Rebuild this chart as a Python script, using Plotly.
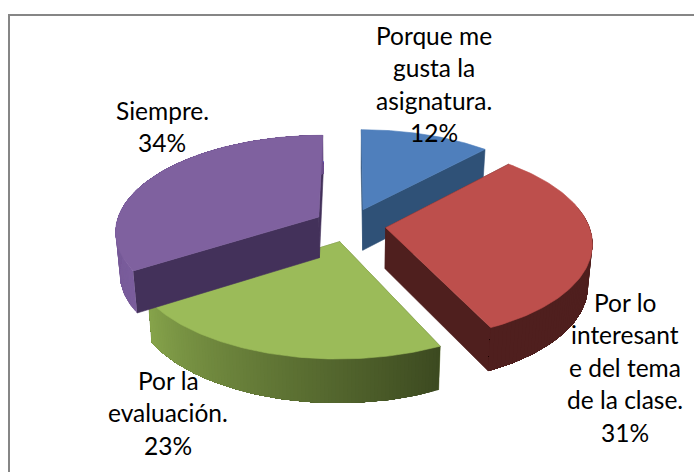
import math
import plotly.graph_objects as go

# ---- data ----
categories = ["Porque me gusta la asignatura.", "Por lo interesante del tema de la clase.",
              "Por la evaluación.", "Siempre."]
values = [12, 31, 23, 34]
label_lines = [["Porque me", "gusta la", "asignatura.", "12%"],
               ["Por lo", "interesant", "e del tema", "de la clase.", "31%"],
               ["Por la", "evaluación.", "23%"],
               ["Siempre.", "34%"]]
label_x = [434, 625, 168, 162]
label_y0 = [35, 302, 380, 110]
line_step = 32.6

top_colors = ["#4f7fbc", "#bd4f4c", "#9bbb59", "#7f619f"]
cut_colors = ["#2f5177", "#4f1f1e", "#5f7035", "#43315a"]
rim_from = [(47, 81, 119), (79, 31, 30), (60, 74, 32), (122, 93, 156)]  # at slice start angle
rim_to = [(47, 81, 119), (79, 31, 30), (134, 163, 75), (107, 79, 138)]  # at slice end angle

# ---- 3-D pie geometry ----
CX, CY = 350, 225
R, EXPLODE = 203, 36
TILT, PERSP = 0.47, 0.1425
DEPTH = 41
SHRINK = 0.018


def project(x, z, drop=0.0):
    d = 1 + PERSP * z / R
    f = 1 - SHRINK * drop / DEPTH
    return CX + f * x / d, CY - TILT * z / d + drop / (d ** 0.4)


def disk_point(theta, mid, r=R):
    return (EXPLODE * math.sin(mid) + r * math.sin(theta),
            EXPLODE * math.cos(mid) + r * math.cos(theta))


def poly(fig, pts, color, width=0.6):
    xs = [p[0] for p in pts] + [pts[0][0]]
    ys = [p[1] for p in pts] + [pts[0][1]]
    fig.add_trace(go.Scatter(x=xs, y=ys, mode="lines", fill="toself", fillcolor=color,
                             line=dict(color=color, width=width), hoverinfo="skip",
                             showlegend=False))


def mix(a, b, f):
    return "rgb(%d,%d,%d)" % tuple(round(a[i] + (b[i] - a[i]) * f) for i in range(3))


fig = go.Figure()
total = sum(values)
angles = [0]
for v in values:
    angles.append(angles[-1] + 2 * math.pi * v / total)

for i in range(len(values)):
    a0, a1 = angles[i], angles[i + 1]
    mid = (a0 + a1) / 2
    apex = disk_point(0, mid, 0)
    n = 90
    thetas = [a0 + (a1 - a0) * k / n for k in range(n + 1)]
    rim = [disk_point(t, mid) for t in thetas]
    # cut faces
    for edge in (rim[0], rim[-1]):
        poly(fig, [project(*apex), project(*edge), project(*edge, DEPTH), project(*apex, DEPTH)],
             cut_colors[i])
    # outer rim: each band runs to the slice end and the next one paints over it, so no seams
    for k in range(n):
        if math.cos(thetas[k]) > 0.25 and i != 3:
            continue
        band = rim[k:]
        pts = [project(*p) for p in band] + [project(*p, DEPTH) for p in reversed(band)]
        poly(fig, pts, mix(rim_from[i], rim_to[i], (k + 0.5) / n), width=0)
    # top face
    poly(fig, [project(*apex)] + [project(*p) for p in rim], top_colors[i])

annotations = []
for lines, x, y0 in zip(label_lines, label_x, label_y0):
    for j, text in enumerate(lines):
        annotations.append(dict(x=x, y=y0 + j * line_step, text=text, showarrow=False,
                                xanchor="center", yanchor="middle",
                                font=dict(family="Lato", size=24.5, color="#000000")))

fig.update_layout(
    width=694, height=472, margin=dict(l=0, r=0, t=0, b=0),
    paper_bgcolor="#ffffff", plot_bgcolor="#ffffff", showlegend=False,
    xaxis=dict(range=[0, 694], visible=False, fixedrange=True),
    yaxis=dict(range=[472, 0], visible=False, fixedrange=True),
    annotations=annotations,
    shapes=[dict(type="rect", xref="x", yref="y", x0=9, y0=15, x1=720, y1=500,
                 line=dict(color="#868686", width=2), layer="below")],
)
fig.write_html("out.html", config=dict(displayModeBar=False),
               post_script="document.body.style.margin='0';")
